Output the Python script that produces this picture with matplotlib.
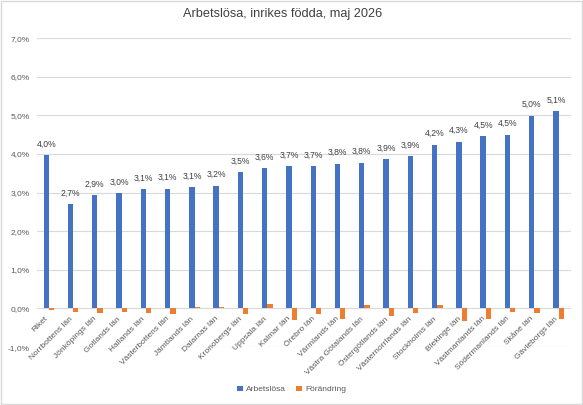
import numpy as np
import matplotlib.pyplot as plt
from matplotlib.ticker import FuncFormatter
from matplotlib.transforms import ScaledTranslation

# regions and values
lan = ['Riket', 'Norrbottens län', 'Jönköpings län', 'Gotlands län', 'Hallands län',
       'Västerbottens län', 'Jämtlands län', 'Dalarnas län', 'Kronobergs län', 'Uppsala län',
       'Kalmar län', 'Örebro län', 'Värmlands län', 'Västra Götalands län',
       'Östergötlands län', 'Västernorrlands län', 'Stockholms län', 'Blekinge län',
       'Västmanlands län', 'Södermanlands län', 'Skåne län', 'Gävleborgs län']
arbetslosa = [3.96, 2.70, 2.93, 2.98, 3.08, 3.10, 3.14, 3.18, 3.53, 3.63, 3.68,
              3.69, 3.75, 3.77, 3.86, 3.94, 4.24, 4.32, 4.46, 4.50, 4.99, 5.10]
forandring = [-0.05, -0.10, -0.12, -0.10, -0.12, -0.14, 0.04, 0.03, -0.14, 0.12, -0.29,
              -0.14, -0.28, 0.08, -0.19, -0.12, 0.08, -0.33, -0.28, -0.10, -0.13, -0.28]

plt.rcParams['font.family'] = ['Liberation Sans', 'DejaVu Sans']

blue = '#4472C4'
orange = '#ED7D31'
text_col = '#595959'

fig = plt.figure(figsize=(5.83, 4.05), dpi=100)
ax = fig.add_axes([0.063, 0.143, 0.916, 0.763])

x = np.arange(len(lan))
w = 0.22
b1 = ax.bar(x - w / 2, arbetslosa, w, color=blue, label='Arbetslösa', zorder=3)
b2 = ax.bar(x + w / 2, forandring, w, color=orange, label='Förändring', zorder=3)

for rect, v in zip(b1, arbetslosa):
    ax.text(rect.get_x() + rect.get_width() / 2, v + 0.17,
            ('%.1f%%' % v).replace('.', ','), ha='center', va='bottom',
            fontsize=6.2, color='#404040')

ax.set_ylim(-1, 7)
ax.set_xlim(-0.5, len(lan) - 0.5)
ax.set_yticks(np.arange(-1, 8, 1))
ax.yaxis.set_major_formatter(FuncFormatter(lambda v, p: ('%.1f%%' % v).replace('.', ',')))
ax.grid(axis='y', color='#d9d9d9', linewidth=0.8, zorder=0)
for s in ax.spines.values():
    s.set_visible(False)
# category labels sit at the zero line, like Excel does
ax.spines['bottom'].set_position(('data', 0))
ax.tick_params(axis='both', length=0, labelsize=6, colors=text_col)
ax.tick_params(axis='y', pad=5)
ax.set_xticks(x)
ax.set_xticklabels(lan, rotation=45, ha='right', rotation_mode='anchor', fontsize=6)
ax.tick_params(axis='x', pad=5)
shift = ScaledTranslation(-3 / 72, 0, fig.dpi_scale_trans)
for lbl in ax.get_xticklabels():
    lbl.set_transform(lbl.get_transform() + shift)

fig.suptitle('Arbetslösa, inrikes födda, maj 2026', x=0.484, y=0.98, fontsize=9.2,
             color='#404040')

fig.legend(handles=[b1, b2], loc='lower center', bbox_to_anchor=(0.5, 0.01), ncol=2,
           frameon=False, fontsize=6, handlelength=0.7, handleheight=0.7,
           columnspacing=1.2, handletextpad=0.4, labelcolor=text_col)

fig.patches.append(plt.Rectangle((0.002, 0.002), 0.996, 0.996, transform=fig.transFigure,
                                 fill=False, edgecolor='#d9d9d9', linewidth=1))

fig.savefig('out.png', dpi=100)
